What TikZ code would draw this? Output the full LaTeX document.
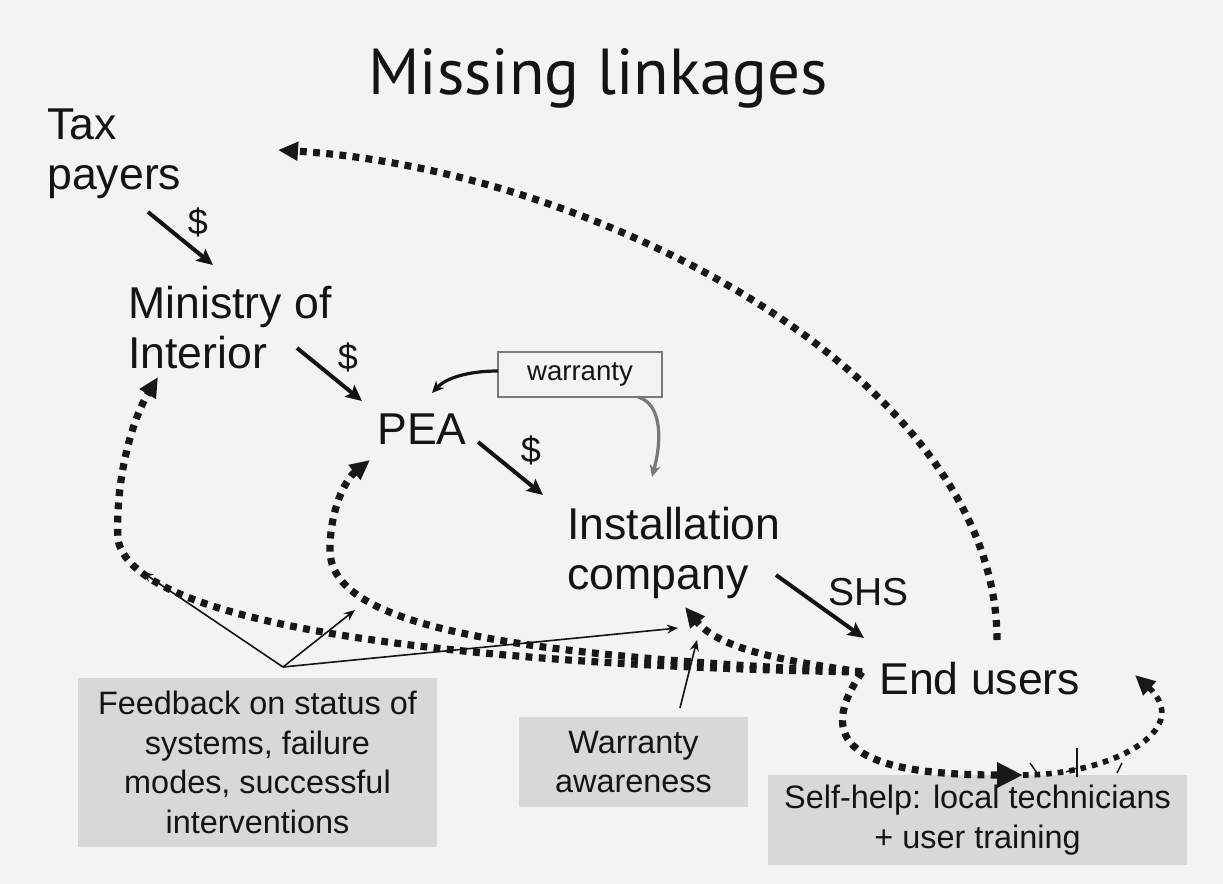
\documentclass[tikz,border=0pt]{standalone}
\usepackage{fontspec}
\setmainfont{Liberation Sans}
\newfontfamily\titlefont{PT Sans}
\usetikzlibrary{arrows.meta}

\definecolor{paper}{RGB}{243,243,241}
\definecolor{boxgray}{RGB}{216,216,214}
\definecolor{ink}{RGB}{20,20,20}
\definecolor{dotink}{RGB}{24,24,24}
\definecolor{softink}{RGB}{120,120,120}

\tikzset{
  lbl/.style={font=\fontsize{22.3}{25}\selectfont, align=left, inner sep=0pt, text=ink},
  dollar/.style={font=\fontsize{18}{20}\selectfont, inner sep=0pt, text=ink},
  graybox/.style={fill=boxgray, align=center, inner sep=0pt, text=ink,
    font=\fontsize{16.2}{19.8}\selectfont},
  flowarrow/.style={draw=ink, line width=2pt,
    -{Stealth[length=8pt,width=7.5pt,inset=1.5pt]}},
  dotarrow/.style={draw=dotink, line width=3.6pt, dash pattern=on 3.4pt off 3.2pt,
    -{Triangle[length=10pt,width=9pt]}},
  thinarrow/.style={draw=ink, line width=0.8pt,
    -{Stealth[length=5.5pt,width=4.5pt]}},
  warrow/.style={line width=1.6pt, -{Stealth[length=6pt,width=5.5pt]}},
  penmark/.style={draw=ink, line width=0.7pt}
}

\begin{document}
\begin{tikzpicture}[x=0.5pt, y=-0.5pt]
\useasboundingbox (0,0) rectangle (1223,884);
\fill[paper] (0,0) rectangle (1223,884);

% title
\node[font=\titlefont\fontsize{32.5}{36}\selectfont, anchor=base, inner sep=0pt, text=ink]
  (title) at (598,94) {Missing linkages};

% actors
\node[lbl, anchor=north west] (tax) at (47,108) {Tax\\payers};
\node[lbl, anchor=north west] (ministry) at (128,286) {Ministry of\\Interior};
\node[lbl, anchor=north west] (pea) at (377,413) {PEA};
\node[lbl, anchor=north west] (install) at (567,507) {Installation\\company};
\node[lbl, anchor=north west] (endusers) at (879,662) {End users};

% warranty tag
\node[draw=softink, fill=paper, line width=0.7pt, minimum width=82pt, minimum height=22.5pt,
  inner sep=0pt, font=\fontsize{13.8}{15}\selectfont, text=ink] (warranty) at (580,374.5)
  {warranty\hspace{12pt}};

% grey explanation boxes
\node[graybox, minimum width=179.5pt, minimum height=84.5pt] (feedback) at (257.5,762.5)
  {Feedback on status of\\systems, failure\\modes, successful\\interventions};
\node[graybox, minimum width=114.5pt, minimum height=45pt] (awareness) at (633.5,762)
  {Warranty\\awareness};
\node[graybox, minimum width=209.5pt, minimum height=45pt] (selfhelp) at (977.5,820)
  {Self-help: local technicians\\+ user training};

% connector end points
\coordinate (tax-out) at (148,212);   \coordinate (min-in) at (213,265);
\coordinate (min-out) at (297,348);   \coordinate (pea-in) at (362,401);
\coordinate (pea-out) at (478,442);   \coordinate (inst-in) at (543,495);
\coordinate (inst-out) at (776,575);  \coordinate (eu-in) at (864,638);
\coordinate (eu-up) at (997,640);     \coordinate (tax-fb) at (278,150);
\coordinate (eu-left) at (862,672);
\coordinate (min-fb) at (158,377);    \coordinate (pea-fb) at (370,460);
\coordinate (inst-fb) at (685,607);
\coordinate (loop-mid) at (1023,775); \coordinate (loop-end) at (1135,675);
\coordinate (fb-src) at (283,667);
\coordinate (fb-min) at (142,572);    \coordinate (fb-pea) at (355,610);
\coordinate (fb-inst) at (678,628);
\coordinate (aw-src) at (680,708);    \coordinate (aw-inst) at (697,640);
\coordinate (w-left) at (498,371);    \coordinate (w-pea) at (432,393);
\coordinate (w-low) at (638,397);     \coordinate (w-inst) at (652,477);

% money and goods flow
\draw[flowarrow] (tax-out) -- (min-in);
\draw[flowarrow] (min-out) -- (pea-in);
\draw[flowarrow] (pea-out) -- (inst-in);
\draw[flowarrow] (inst-out) -- (eu-in);
\node[dollar] (d1) at (198,222) {\$};
\node[dollar] (d2) at (348,357) {\$};
\node[dollar] (d3) at (531,450) {\$};
\node[font=\fontsize{19.5}{21}\selectfont, inner sep=0pt, text=ink, anchor=north west] (shs) at (828,578) {SHS};

% warranty arrows
\draw[warrow, draw=ink] (w-left) .. controls (468,371) and (446,378) .. (w-pea);
\draw[warrow, draw=softink] (w-low) .. controls (662,404) and (662,440) .. (w-inst);

% missing feedback linkages
\draw[dotarrow] (eu-up) .. controls (997,380) and (600,170) .. (tax-fb);
\draw[dotarrow] (eu-left) .. controls (450,665) and (135,625) .. (118,540)
  .. controls (115,480) and (132,420) .. (min-fb);
\draw[dotarrow] (eu-left) .. controls (500,655) and (330,625) .. (330,550)
  .. controls (330,510) and (345,480) .. (pea-fb);
\draw[dotarrow] (eu-left) .. controls (790,662) and (720,650) .. (inst-fb);

% self-help loop
\draw[dotarrow, -{Triangle[length=13pt,width=12pt]}] (eu-left) .. controls (815,740) and (850,775) .. (loop-mid);
\draw[dotarrow, line width=2.8pt, dash pattern=on 2.8pt off 3pt] (loop-mid) .. controls (1110,775) and (1195,730) .. (loop-end);

% pen strokes on the loop
\draw[penmark] (1030,763) -- (1037,773);
\draw[penmark] (1077,748) -- (1077,777);
\draw[penmark] (1066,772) -- (1077,768);
\draw[penmark] (1117,773) -- (1122,763);

% thin pointers from the explanation boxes
\draw[thinarrow] (fb-src) -- (fb-min);
\draw[thinarrow] (fb-src) -- (fb-pea);
\draw[thinarrow] (fb-src) -- (fb-inst);
\draw[thinarrow] (aw-src) -- (aw-inst);
\end{tikzpicture}
\end{document}
